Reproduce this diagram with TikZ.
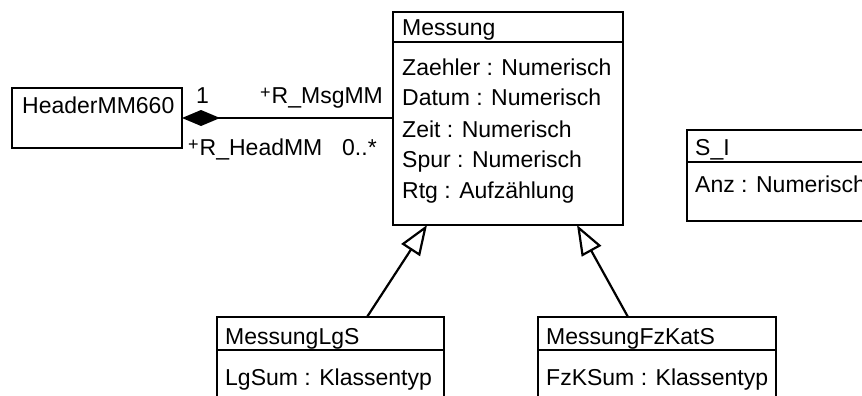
\documentclass[tikz,border=0pt]{standalone}
\usepackage{fontspec}
\setmainfont{Liberation Sans}
\usetikzlibrary{arrows.meta,calc}
\begin{document}
\begin{tikzpicture}[x=1pt,y=-1pt,
  cls/.style={draw=black, line width=2.4pt, fill=white, inner sep=0pt, outer sep=0pt, anchor=north west},
  divider/.style={line width=2.2pt},
  txt/.style={font=\fontsize{23}{27}\selectfont, inner sep=0pt, anchor=base west},
  conn/.style={line width=2.2pt},
  composition/.style={conn, {Diamond[length=38pt,width=16pt]}-},
  generalization/.style={conn, -{Triangle[open,length=30pt,width=22pt,fill=white]}},
  ]
\useasboundingbox (0,0) rectangle (862,396);
\fill[white] (0,0) rectangle (862,396);
\clip (0,0) rectangle (862,396);

% small raised plus sign of the role names
\newcommand{\rolevis}{\raisebox{5pt}{\fontsize{18}{18}\selectfont +}\kern1pt}

% HeaderMM660
\node[cls, minimum width=170pt, minimum height=60pt] (hdr) at (12,88) {};
\node[txt] (hdrname) at (22,113) {HeaderMM660};

% Messung
\node[cls, minimum width=230pt, minimum height=213pt] (mess) at (393,12) {};
\draw[divider] ($(mess.north west)+(0,30)$) -- ($(mess.north east)+(0,30)$);
\node[txt] (messname) at (402,36) {Messung};
\node[txt] (messa1) at (402,75) {Zaehler : Numerisch};
\node[txt] (messa2) at (402,106) {Datum : Numerisch};
\node[txt] (messa3) at (402,137) {Zeit : Numerisch};
\node[txt] (messa4) at (402,167) {Spur : Numerisch};
\node[txt] (messa5) at (402,198) {Rtg : Aufzählung};

% S_I
\node[cls, minimum width=200pt, minimum height=91pt] (si) at (687,130) {};
\draw[divider] ($(si.north west)+(0,32)$) -- ($(si.north east)+(0,32)$);
\node[txt] (siname) at (695,155) {S\_I};
\node[txt] (sia1) at (695,192) {Anz : Numerisch};

% MessungLgS
\node[cls, minimum width=227pt, minimum height=120pt] (lgs) at (217,317) {};
\draw[divider] ($(lgs.north west)+(0,33)$) -- ($(lgs.north east)+(0,33)$);
\node[txt] (lgsname) at (225,344) {MessungLgS};
\node[txt] (lgsa1) at (225,385) {LgSum : Klassentyp};

% MessungFzKatS
\node[cls, minimum width=238pt, minimum height=120pt] (fzs) at (538,317) {};
\draw[divider] ($(fzs.north west)+(0,33)$) -- ($(fzs.north east)+(0,33)$);
\node[txt] (fzsname) at (546,344) {MessungFzKatS};
\node[txt] (fzsa1) at (546,385) {FzKSum : Klassentyp};

% composition HeaderMM660 -- Messung
\draw[composition] (hdr.east) -- (mess.west |- hdr.east);
\node[txt] (mult1) at (196,103) {1};
\node[txt] (role1) at (260,103) {\rolevis R\_MsgMM};
\node[txt] (role2) at (188,155) {\rolevis R\_HeadMM};
\node[txt] (mult2) at (342,155) {0..*};

% generalizations
\draw[generalization] ($(lgs.north west)+(150,0)$) -- ($(mess.south west)+(34,0)$);
\draw[generalization] ($(fzs.north west)+(90,0)$) -- ($(mess.south west)+(184,0)$);
\end{tikzpicture}
\end{document}
